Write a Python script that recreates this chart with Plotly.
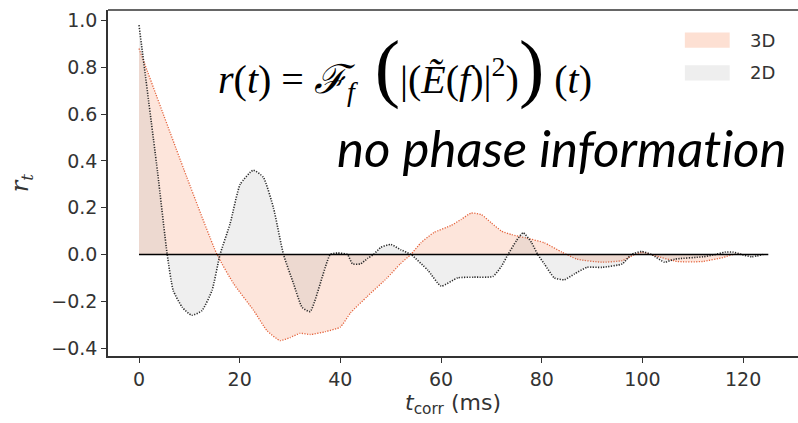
import plotly.graph_objects as go

# Correlation r(t) versus correlation time (ms)
t_3d = [0, 9.5, 15.5, 18.8, 22.8, 25.4, 28, 30, 32, 34, 37, 40, 42, 45.3,
        49.3, 51.9, 54, 56, 58.6, 62, 64, 66, 68, 70, 72, 74, 77, 80.5, 84, 87,
        92, 96, 98.5, 100, 102.4, 107, 112, 116, 118, 119.5]
r_3d = [0.88, 0.33, 0.0, -0.125, -0.24, -0.325, -0.368, -0.355, -0.337,
        -0.342, -0.33, -0.31, -0.25, -0.18, -0.10, -0.04, 0.0, 0.05, 0.094,
        0.124, 0.15, 0.177, 0.17, 0.135, 0.10, 0.085, 0.07, 0.05, 0.01, -0.02,
        -0.033, -0.026, 0.0, 0.01, -0.005, -0.03, -0.03, -0.013, 0.0, 0.0]

t_2d = [0, 3.7, 5.6, 6.8, 8.6, 10.5, 12.5, 14.5, 16.1, 18.1, 20.1, 22.7, 24.7,
        26.7, 28.7, 30.7, 32.4, 34, 38, 39.4, 41.4, 42.4, 44, 45.4, 46.6, 48,
        50, 52, 54, 57.4, 60, 63.3, 66.5, 70.3, 72, 73.3, 75, 76.3, 78, 79.2,
        80.5, 82.5, 84.5, 86.5, 89, 92, 96, 97.8, 99.8, 101.8, 104.4, 106.4,
        112, 114, 116.4, 118, 119.7, 121.7, 124]
r_2d = [0.98, 0.35, 0.0, -0.154, -0.226, -0.26, -0.24, -0.154, 0.0, 0.132, 0.30,
        0.36, 0.33, 0.2, 0.0, -0.125, -0.226, -0.244, 0.0, 0.006, 0.0, -0.04,
        -0.04, -0.017, 0.0, 0.03, 0.043, 0.02, 0.0, -0.068, -0.135, -0.10,
        -0.097, -0.094, -0.05, 0.0, 0.06, 0.093, 0.05, 0.0, -0.04, -0.10,
        -0.108, -0.083, -0.055, -0.055, -0.04, 0.0, 0.013, 0.0, -0.033, -0.02,
        -0.01, -0.003, 0.01, 0.01, 0.0, -0.01, 0.0]

baseline_t = [0, 125]
baseline_r = [0, 0]

series_names = ["3D", "2D"]
x_ticks = [0, 20, 40, 60, 80, 100, 120]
y_ticks = [-0.4, -0.2, 0.0, 0.2, 0.4, 0.6, 0.8, 1.0]

fill_3d = "rgba(247,150,110,0.25)"
fill_2d = "rgba(150,150,150,0.15)"
line_3d = "#e4653f"
line_2d = "#2a2a2a"
dotted = "1.2px,1.4px"

fig = go.Figure()
fig.add_trace(go.Scatter(
    x=t_3d, y=r_3d, name=series_names[0], mode="lines", fill="tozeroy",
    fillcolor=fill_3d, line=dict(color=line_3d, width=1.3, dash=dotted,
                                 shape="spline", smoothing=0.5),
    showlegend=False))
fig.add_trace(go.Scatter(
    x=t_2d, y=r_2d, name=series_names[1], mode="lines", fill="tozeroy",
    fillcolor=fill_2d, line=dict(color=line_2d, width=1.6, dash=dotted,
                                 shape="spline", smoothing=0.5),
    showlegend=False))
fig.add_trace(go.Scatter(
    x=baseline_t, y=baseline_r, mode="lines",
    line=dict(color="black", width=1.6), showlegend=False))

tick_font = dict(family="DejaVu Sans", size=19, color="#333333")

fig.update_xaxes(
    range=[-6.16, 130.9], tickvals=x_ticks, ticks="outside", ticklen=5,
    tickwidth=1.3, tickcolor="#333333", showline=True, linecolor="#333333",
    linewidth=1.6, showgrid=False, zeroline=False, tickfont=tick_font,
    title=dict(text="<i>t</i><sub>corr</sub> (ms)",
               font=dict(family="DejaVu Sans", size=22, color="#333333"),
               standoff=2))
fig.update_yaxes(
    range=[-0.434, 1.045], tickvals=y_ticks, tickformat=".1f", ticks="outside",
    ticklen=5, tickwidth=1.3, tickcolor="#333333", showline=True,
    linecolor="#333333", linewidth=1.6, showgrid=False, zeroline=False,
    tickfont=tick_font,
    title=dict(text="<i>r</i><sub><i>t</i></sub>",
               font=dict(family="DejaVu Serif", size=24, color="#333333"),
               standoff=16))

# top frame line
fig.add_shape(type="line", xref="paper", yref="paper", x0=0, x1=1, y0=1, y1=1,
              line=dict(color="#333333", width=1.6))

# legend patches
legend_fills = ["#fde0d3", "#eeeeee"]
for i, (name, col) in enumerate(zip(series_names, legend_fills)):
    ytop = 0.935 - i * 0.095
    fig.add_shape(type="rect", xref="paper", yref="paper",
                  x0=0.836, x1=0.901, y0=ytop - 0.044, y1=ytop,
                  fillcolor=col, line=dict(width=0))
    fig.add_annotation(xref="paper", yref="paper", x=0.928, y=ytop - 0.022,
                       text=name, showarrow=False, xanchor="left",
                       yanchor="middle",
                       font=dict(family="DejaVu Sans", size=18,
                                 color="#333333"))

big = "<span style='font-size:76px'>{}</span>"
formula = ("<i>r</i>(<i>t</i>)&nbsp;=&nbsp;<i>ℱ</i><sub><i>f</i></sub>&nbsp;&nbsp;"
           + big.format("(") + "|(<i>Ẽ</i>(<i>f</i>)|<sup>2</sup>)"
           + big.format(")") + "&nbsp;(<i>t</i>)")
fig.add_annotation(xref="paper", yref="paper", x=0.43, y=0.835, text=formula,
                   showarrow=False, xanchor="center", yanchor="middle",
                   font=dict(family="Liberation Serif", size=40, color="black"))
fig.add_annotation(xref="paper", yref="paper", x=0.658, y=0.605,
                   text=("<i>no phase informa"
                         "<span style='font-size:51.2px'>t</span>ion</i>"),
                   showarrow=False, xanchor="center", yanchor="middle",
                   font=dict(family="Lato", size=51, color="black"))

fig.update_layout(
    width=798, height=423,
    margin=dict(l=108, r=0, t=10, b=67),
    paper_bgcolor="white", plot_bgcolor="white",
    showlegend=False,
)

fig.write_html("out.html")
